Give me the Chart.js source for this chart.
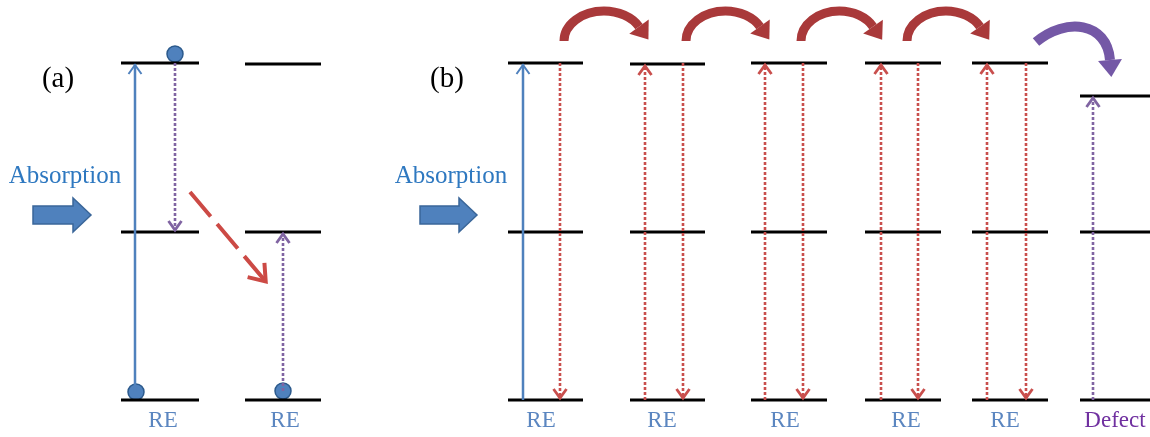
<!DOCTYPE html>
<html>
<head>
<meta charset="utf-8">
<script src="https://cdn.jsdelivr.net/npm/chart.js@4.4.1/dist/chart.umd.min.js"></script>
<style>
  html, body { margin: 0; padding: 0; background: #fff; }
</style>
</head>
<body>
<canvas id="diagram" width="1150" height="437"></canvas>
<script>
// energy level sites (a: two RE ions, b: five RE ions + defect)
const siteLeft  = [121, 245, 508, 630, 751, 865, 972, 1080];
const siteRight = [199, 321, 583, 705, 827, 941, 1048, 1150];
const upperY    = [63, 64, 63, 64, 63, 63, 63, 96];
const middleY   = [232, 232, 232, 232, 232, 232, 232, 232];
const groundY   = [400, 400, 400, 400, 400, 400, 400, 400];
const siteNames = ['RE', 'RE', 'RE', 'RE', 'RE', 'RE', 'RE', 'Defect'];
const nameX     = [163, 285, 541, 662, 785, 906, 1005, 1115];

// vertical transitions
const transX    = [135, 175, 283, 523, 560, 645, 683, 765, 803, 881, 918, 987, 1026, 1093];
const transFrom = [392, 63, 391, 400, 63, 400, 63, 400, 63, 400, 63, 400, 63, 400];
const transTo   = [64, 231, 233, 64, 399, 65, 399, 64, 399, 64, 399, 64, 399, 97];
const transKind = ['pump', 'relax', 'relax', 'pump', 'emit', 'emit', 'emit', 'emit', 'emit',
                   'emit', 'emit', 'emit', 'emit', 'relax'];

// electrons
const electronX = [175, 136, 283];
const electronY = [54, 392, 391];

// energy migration hops between RE ions (tail x, tip x)
const hopTail = [564, 686, 801, 907];
const hopTip  = [647, 768, 881, 988];
// hop to defect (cubic curve points)
const trapX = [1036, 1066, 1107, 1110];
const trapY = [42, 17, 22, 60];

// cross relaxation in (a)
const transferX = [190, 267];
const transferY = [192, 283];

// panel text
const panelText = ['(a)', '(b)'];
const panelX = [58, 447];
const panelY = [79, 79];
const absorbX = [65, 451];
const absorbY = [176, 176];
const pumpLeft = [33, 420];
const pumpRight = [91, 477];
const pumpY = [215, 215];

const colors = {
    pump: '#4f81bd',
    relax: '#8064a2',
    emit: '#c94f4d'
};

const levelData = [];
for (let i = 0; i < siteLeft.length; i++) {
    for (const y of [upperY[i], middleY[i], groundY[i]]) {
        levelData.push({x: siteLeft[i], y: y});
        levelData.push({x: siteRight[i], y: y});
        levelData.push({x: siteRight[i], y: null});
    }
}

const datasets = [];
for (let i = 0; i < transX.length; i++) {
    const kind = transKind[i];
    datasets.push({
        data: [{x: transX[i], y: transFrom[i]}, {x: transX[i], y: transTo[i]}],
        showLine: true,
        borderColor: colors[kind],
        borderWidth: kind === 'pump' ? 2.5 : 2.6,
        borderDash: kind === 'pump' ? [] : [3, 2],
        pointRadius: 0
    });
}
datasets.push({
    data: levelData,
    showLine: true,
    spanGaps: false,
    borderColor: '#000',
    borderWidth: 3,
    pointRadius: 0
});
datasets.push({
    data: electronX.map((x, i) => ({x: x, y: electronY[i]})),
    pointRadius: 8,
    backgroundColor: '#4f81bd',
    borderColor: '#2c5a8c',
    borderWidth: 1.5
});

function chevron(ctx, tx, ty, dx, dy, len, half) {
    const px = -dy, py = dx;
    ctx.beginPath();
    ctx.moveTo(tx - dx * len + px * half, ty - dy * len + py * half);
    ctx.lineTo(tx, ty);
    ctx.lineTo(tx - dx * len - px * half, ty - dy * len - py * half);
    ctx.stroke();
}

function filledHead(ctx, ex, ey, dx, dy, len, half) {
    const px = -dy, py = dx;
    ctx.beginPath();
    ctx.moveTo(ex + px * half, ey + py * half);
    ctx.lineTo(ex + dx * len, ey + dy * len);
    ctx.lineTo(ex - px * half, ey - py * half);
    ctx.closePath();
    ctx.fill();
}

const diagramPlugin = {
    id: 'diagram',
    afterDatasetsDraw(chart) {
        const ctx = chart.ctx;
        const sx = chart.scales.x, sy = chart.scales.y;
        const X = v => sx.getPixelForValue(v);
        const Y = v => sy.getPixelForValue(v);
        ctx.save();

        // arrow heads of vertical transitions
        ctx.setLineDash([]);
        ctx.lineJoin = 'miter';
        for (let i = 0; i < transX.length; i++) {
            const kind = transKind[i];
            ctx.strokeStyle = colors[kind];
            ctx.lineWidth = kind === 'pump' ? 2 : 2.8;
            const dir = transTo[i] < transFrom[i] ? -1 : 1;
            chevron(ctx, X(transX[i]), Y(transTo[i]) - dir, 0, dir, 9, 6.5);
        }

        // dashed transfer arrow (a)
        ctx.strokeStyle = '#cc4a45';
        ctx.lineWidth = 4;
        let x1 = X(transferX[0]), y1 = Y(transferY[0]);
        let x2 = X(transferX[1]), y2 = Y(transferY[1]);
        let len = Math.hypot(x2 - x1, y2 - y1);
        let dx = (x2 - x1) / len, dy = (y2 - y1) / len;
        ctx.setLineDash([32, 10]);
        ctx.beginPath();
        ctx.moveTo(x1, y1);
        ctx.lineTo(x2 - dx * 4, y2 - dy * 4);
        ctx.stroke();
        ctx.setLineDash([]);
        chevron(ctx, x2 - dx * 2, y2 - dy * 2, dx, dy, 15, 11);

        // red migration hops
        ctx.strokeStyle = '#a9393a';
        ctx.fillStyle = '#a9393a';
        ctx.lineWidth = 9;
        const endA = -0.5;
        for (let i = 0; i < hopTail.length; i++) {
            const t = X(hopTail[i]), tip = X(hopTip[i]);
            const rx = (tip - 8 - t) / (1 + Math.cos(endA));
            const cx = t + rx, cy = Y(41), ry = 30;
            ctx.beginPath();
            ctx.ellipse(cx, cy, rx, ry, 0, Math.PI, 2 * Math.PI + endA);
            ctx.stroke();
            const ex = cx + rx * Math.cos(endA), ey = cy + ry * Math.sin(endA);
            let tx = -rx * Math.sin(endA), ty = ry * Math.cos(endA);
            const tl = Math.hypot(tx, ty);
            filledHead(ctx, ex, ey, tx / tl, ty / tl, 16, 12);
        }

        // purple hop to defect (thick tail tapering towards the head)
        ctx.strokeStyle = '#7458a6';
        ctx.fillStyle = '#7458a6';
        ctx.lineWidth = 10;
        ctx.beginPath();
        ctx.moveTo(X(trapX[0]), Y(trapY[0]));
        ctx.bezierCurveTo(X(trapX[1]), Y(trapY[1]), X(trapX[2]), Y(trapY[2]), X(trapX[3]), Y(trapY[3]));
        ctx.stroke();
        dx = X(trapX[3]) - X(trapX[2]); dy = Y(trapY[3]) - Y(trapY[2]);
        len = Math.hypot(dx, dy);
        filledHead(ctx, X(trapX[3]), Y(trapY[3]), dx / len, dy / len, 17, 12);

        // block absorption arrows
        ctx.fillStyle = '#4f81bd';
        ctx.strokeStyle = '#3a6699';
        ctx.lineWidth = 1.5;
        for (let i = 0; i < pumpLeft.length; i++) {
            const l = X(pumpLeft[i]), r = X(pumpRight[i]), cy = Y(pumpY[i]);
            const neck = r - 18;
            ctx.beginPath();
            ctx.moveTo(l, cy - 9);
            ctx.lineTo(neck, cy - 9);
            ctx.lineTo(neck, cy - 17);
            ctx.lineTo(r, cy);
            ctx.lineTo(neck, cy + 17);
            ctx.lineTo(neck, cy + 9);
            ctx.lineTo(l, cy + 9);
            ctx.closePath();
            ctx.fill();
            ctx.stroke();
        }

        // text
        ctx.textAlign = 'center';
        ctx.textBaseline = 'middle';
        ctx.fillStyle = '#000';
        ctx.font = '29px "Liberation Serif"';
        for (let i = 0; i < panelText.length; i++) {
            ctx.fillText(panelText[i], X(panelX[i]), Y(panelY[i]));
        }
        ctx.fillStyle = '#2e78c0';
        ctx.font = '25px "Liberation Serif"';
        for (let i = 0; i < absorbX.length; i++) {
            ctx.fillText('Absorption', X(absorbX[i]), Y(absorbY[i]));
        }
        ctx.font = '23px "Liberation Serif"';
        for (let i = 0; i < siteNames.length; i++) {
            ctx.fillStyle = siteNames[i] === 'Defect' ? '#7030a0' : '#5b86c0';
            ctx.fillText(siteNames[i], X(nameX[i]), Y(421));
        }
        ctx.restore();
    }
};

new Chart(document.getElementById('diagram'), {
    type: 'scatter',
    data: { datasets: datasets },
    options: {
        responsive: false,
        animation: false,
        events: [],
        layout: { padding: 0, autoPadding: false },
        plugins: {
            legend: { display: false },
            tooltip: { enabled: false }
        },
        scales: {
            x: { type: 'linear', min: 0, max: 1150, display: false },
            y: { type: 'linear', min: 0, max: 437, reverse: true, display: false }
        }
    },
    plugins: [diagramPlugin]
});
</script>
</body>
</html>
